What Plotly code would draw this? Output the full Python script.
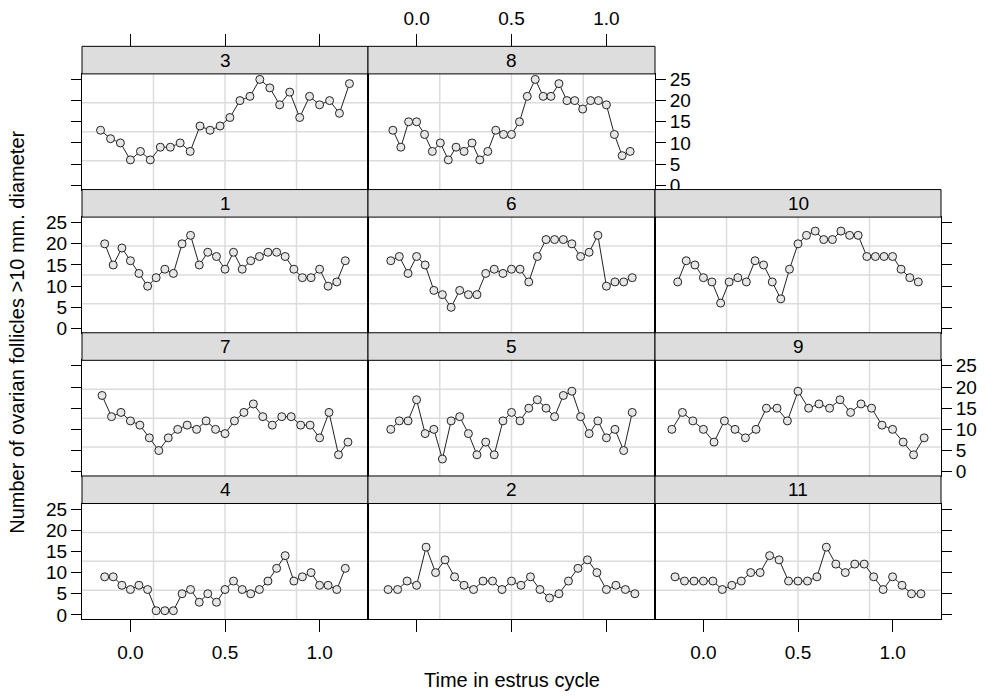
import plotly.graph_objects as go

W, H = 993, 699

# ---- data ----
time_L18 = [-0.167, -0.111, -0.056, 0.0, 0.056, 0.111, 0.167, 0.222, 0.278, 0.333, 0.389, 0.444, 0.5,
            0.556, 0.611, 0.667, 0.722, 0.778, 0.833, 0.889, 0.944, 1.0, 1.056, 1.111, 1.167]
time_L19 = [-0.158, -0.105, -0.053, 0.0, 0.053, 0.105, 0.158, 0.211, 0.263, 0.316, 0.368, 0.421, 0.474,
            0.526, 0.579, 0.632, 0.684, 0.737, 0.789, 0.842, 0.895, 0.947, 1.0, 1.053, 1.105, 1.158]
time_L20 = [-0.15, -0.1, -0.05, 0.0, 0.05, 0.1, 0.15, 0.2, 0.25, 0.3, 0.35, 0.4, 0.45, 0.5, 0.55, 0.6,
            0.65, 0.7, 0.75, 0.8, 0.85, 0.9, 0.95, 1.0, 1.05, 1.1, 1.15]
time_L22 = [-0.136, -0.091, -0.045, 0.0, 0.045, 0.091, 0.136, 0.182, 0.227, 0.273, 0.318, 0.364, 0.409,
            0.455, 0.5, 0.545, 0.591, 0.636, 0.682, 0.727, 0.773, 0.818, 0.864, 0.909, 0.955, 1.0,
            1.045, 1.091, 1.136]
time_L24 = [-0.125, -0.083, -0.042, 0.0, 0.042, 0.083, 0.125, 0.167, 0.208, 0.25, 0.292, 0.333, 0.375,
            0.417, 0.458, 0.5, 0.542, 0.583, 0.625, 0.667, 0.708, 0.75, 0.792, 0.833, 0.875, 0.917,
            0.958, 1.0, 1.042, 1.083, 1.125]

mare1 = [20, 15, 19, 16, 13, 10, 12, 14, 13, 20, 22, 15, 18, 17, 14, 18, 14, 16, 17, 18, 18, 17, 14, 12, 12, 14, 10, 11, 16]
mare2 = [6, 6, 8, 7, 16, 10, 13, 9, 7, 6, 8, 8, 6, 8, 7, 9, 6, 4, 5, 8, 11, 13, 10, 6, 7, 6, 5]
mare3 = [13, 11, 10, 6, 8, 6, 9, 9, 10, 8, 14, 13, 14, 16, 20, 21, 25, 23, 19, 22, 16, 21, 19, 20, 17, 24]
mare4 = [9, 9, 7, 6, 7, 6, 1, 1, 1, 5, 6, 3, 5, 3, 6, 8, 6, 5, 6, 8, 11, 14, 8, 9, 10, 7, 7, 6, 11]
mare5 = [10, 12, 12, 17, 9, 10, 3, 12, 13, 9, 4, 7, 4, 12, 14, 12, 15, 17, 15, 13, 18, 19, 13, 9, 12, 8, 10, 5, 14]
mare6 = [16, 17, 13, 17, 15, 9, 8, 5, 9, 8, 8, 13, 14, 13, 14, 14, 11, 17, 21, 21, 21, 20, 17, 18, 22, 10, 11, 11, 12]
mare7 = [18, 13, 14, 12, 11, 8, 5, 8, 10, 11, 10, 12, 10, 9, 12, 14, 16, 13, 11, 13, 13, 11, 11, 8, 14, 4, 7]
mare8 = [13, 9, 15, 15, 12, 8, 10, 6, 9, 8, 10, 6, 8, 13, 12, 12, 15, 21, 25, 21, 21, 24, 20, 20, 18, 20, 20, 19, 12, 7, 8]
mare9 = [10, 14, 12, 10, 7, 12, 10, 8, 10, 15, 15, 12, 19, 15, 16, 15, 17, 14, 16, 15, 11, 10, 7, 4, 8]
mare10 = [11, 16, 15, 12, 11, 6, 11, 12, 11, 16, 15, 11, 7, 14, 20, 22, 23, 21, 21, 23, 22, 22, 17, 17, 17, 17, 14, 12, 11]
mare11 = [9, 8, 8, 8, 8, 6, 7, 8, 10, 10, 14, 13, 8, 8, 8, 9, 16, 12, 10, 12, 12, 9, 6, 9, 7, 5, 5]

mare_labels = ["4", "2", "11", "7", "5", "9", "1", "6", "10", "3", "8"]
mare_times = [time_L22, time_L20, time_L20, time_L20, time_L22, time_L18, time_L22, time_L22, time_L22, time_L19, time_L24]
mare_values = [mare4, mare2, mare11, mare7, mare5, mare9, mare1, mare6, mare10, mare3, mare8]

x_tick_vals = [0.0, 0.5, 1.0]
x_tick_text = ["0.0", "0.5", "1.0"]
y_tick_vals = [0, 5, 10, 15, 20, 25]
y_tick_text = ["0", "5", "10", "15", "20", "25"]

x_title = "Time in estrus cycle"
y_title = "Number of ovarian follicles >10 mm. diameter"

# ---- layout geometry (pixels) ----
COLS = [(82, 368), (368, 655), (655, 941)]
ROW_STEP = 145.5
PANEL_H = 117.5
STRIP_H = 28
FONT = "Liberation Sans, Arial, Helvetica, sans-serif"
FS_TICK = 19
FS_TITLE = 20
X_RANGE = [-0.256, 1.256]
Y_RANGE = [-1, 26.3]

# (row from bottom, col) for each panel in the order of mare_labels
grid_pos = [(1, 1), (1, 2), (1, 3), (2, 1), (2, 2), (2, 3), (3, 1), (3, 2), (3, 3), (4, 1), (4, 2)]

# axis decorations: (x side, x labels?, y side, y labels?) ; None = no ticks
axis_style = {
    "4": ("bottom", True, "left", True),
    "2": ("bottom", False, None, False),
    "11": ("bottom", True, "right", False),
    "7": (None, False, "left", False),
    "5": (None, False, None, False),
    "9": (None, False, "right", True),
    "1": (None, False, "left", True),
    "6": (None, False, None, False),
    "10": (None, False, "right", False),
    "3": ("top", False, "left", False),
    "8": ("top", True, "right", True),
}

tickfont = dict(family=FONT, size=FS_TICK, color="black")
fig = go.Figure()
shapes = []
annotations = []
layout_axes = {}
extra = [len(mare_labels)]


def add_free_x(domain, pos_px, side, ticklen, visible_ticks, labels, overlay_ref, yref):
    """Extra x axis (same scale as the panel) drawn at a fixed pixel height."""
    extra[0] += 1
    k = extra[0]
    layout_axes[f"xaxis{k}"] = dict(
        domain=domain, anchor="free", position=1 - pos_px / H, overlaying=overlay_ref, range=X_RANGE,
        tickvals=x_tick_vals, ticktext=x_tick_text,
        showgrid=False, zeroline=False, showline=False,
        ticks="outside", ticklen=ticklen, tickwidth=1,
        tickcolor="black" if visible_ticks else "rgba(0,0,0,0)",
        side=side, showticklabels=labels, tickfont=tickfont,
    )
    fig.add_trace(go.Scatter(x=[None], y=[None], xaxis=f"x{k}", yaxis=yref, showlegend=False,
                             hoverinfo="skip"))


for i, (lab, tt, vv, (r, c)) in enumerate(zip(mare_labels, mare_times, mare_values, grid_pos), start=1):
    x0p, x1p = COLS[c - 1]
    pb = 624 - (r - 1) * ROW_STEP
    pt = pb - PANEL_H
    st = pt - STRIP_H
    xd = [x0p / W, x1p / W]
    yd = [1 - pb / H, 1 - pt / H]
    xs, xl, ys, yl = axis_style[lab]
    xname = "xaxis" if i == 1 else f"xaxis{i}"
    yname = "yaxis" if i == 1 else f"yaxis{i}"
    xref = "x" if i == 1 else f"x{i}"
    yref = "y" if i == 1 else f"y{i}"
    layout_axes[xname] = dict(
        domain=xd, anchor=yref, range=X_RANGE,
        tickvals=x_tick_vals, ticktext=x_tick_text,
        showgrid=False, zeroline=False, showline=True, linecolor="black", linewidth=1, mirror=True,
        ticks="", side="bottom", showticklabels=False,
    )
    layout_axes[yname] = dict(
        domain=yd, anchor=xref, range=Y_RANGE,
        tickvals=y_tick_vals, ticktext=y_tick_text,
        showgrid=False, zeroline=False, showline=True, linecolor="black", linewidth=1, mirror=True,
        ticks="outside" if ys else "", ticklen=10, tickcolor="black", tickwidth=1,
        side=ys if ys else "left", showticklabels=bool(yl), tickfont=tickfont,
    )
    if xs == "bottom":
        add_free_x(xd, pb, "bottom", 12, True, False, xref, yref)
        if xl:
            add_free_x(xd, pb, "bottom", 16, False, True, xref, yref)
    elif xs == "top":
        # top axis sits above the strip, as in lattice
        add_free_x(xd, st, "top", 12, True, False, xref, yref)
        if xl:
            add_free_x(xd, st, "top", 14, False, True, xref, yref)
    # panel.grid: 3 equally spaced reference lines in each direction
    for f in (0.25, 0.5, 0.75):
        shapes.append(dict(type="line", xref=f"{xref} domain", yref=f"{yref} domain",
                           x0=f, x1=f, y0=0, y1=1, line=dict(color="#dcdcdc", width=1.5), layer="below"))
        shapes.append(dict(type="line", xref=f"{xref} domain", yref=f"{yref} domain",
                           x0=0, x1=1, y0=f, y1=f, line=dict(color="#dcdcdc", width=1.5), layer="below"))
    # strip
    shapes.append(dict(type="rect", xref="paper", yref="paper",
                       x0=x0p / W, x1=x1p / W, y0=1 - pt / H, y1=1 - st / H,
                       fillcolor="#dddddd", line=dict(color="black", width=1), layer="above"))
    annotations.append(dict(xref="paper", yref="paper", x=(x0p + x1p) / 2 / W, y=1 - (st + pt) / 2 / H,
                            text=lab, showarrow=False, xanchor="center", yanchor="middle",
                            font=dict(family=FONT, size=FS_TICK, color="black")))
    fig.add_trace(go.Scatter(
        x=tt, y=vv, xaxis=xref, yaxis=yref, mode="lines+markers",
        line=dict(color="#222222", width=1),
        marker=dict(symbol="circle", size=8, color="#e6e6e6", line=dict(color="#222222", width=1)),
        showlegend=False, hoverinfo="x+y",
    ))

annotations.append(dict(xref="paper", yref="paper", x=(82 + 941) / 2 / W, y=1 - 686 / H,
                        text=x_title, showarrow=False, xanchor="center", yanchor="middle",
                        font=dict(family=FONT, size=FS_TITLE, color="black")))
annotations.append(dict(xref="paper", yref="paper", x=17 / W, y=1 - 333 / H,
                        text=y_title, showarrow=False, xanchor="center", yanchor="middle", textangle=-90,
                        font=dict(family=FONT, size=FS_TITLE, color="black")))

fig.update_layout(
    width=W, height=H, autosize=False,
    margin=dict(l=0, r=0, t=0, b=0),
    paper_bgcolor="white", plot_bgcolor="white",
    shapes=shapes, annotations=annotations, showlegend=False,
    **layout_axes,
)

fig.write_html("out.html", config={"displayModeBar": False},
               post_script="document.body.style.margin='0';document.body.style.overflow='hidden';")
